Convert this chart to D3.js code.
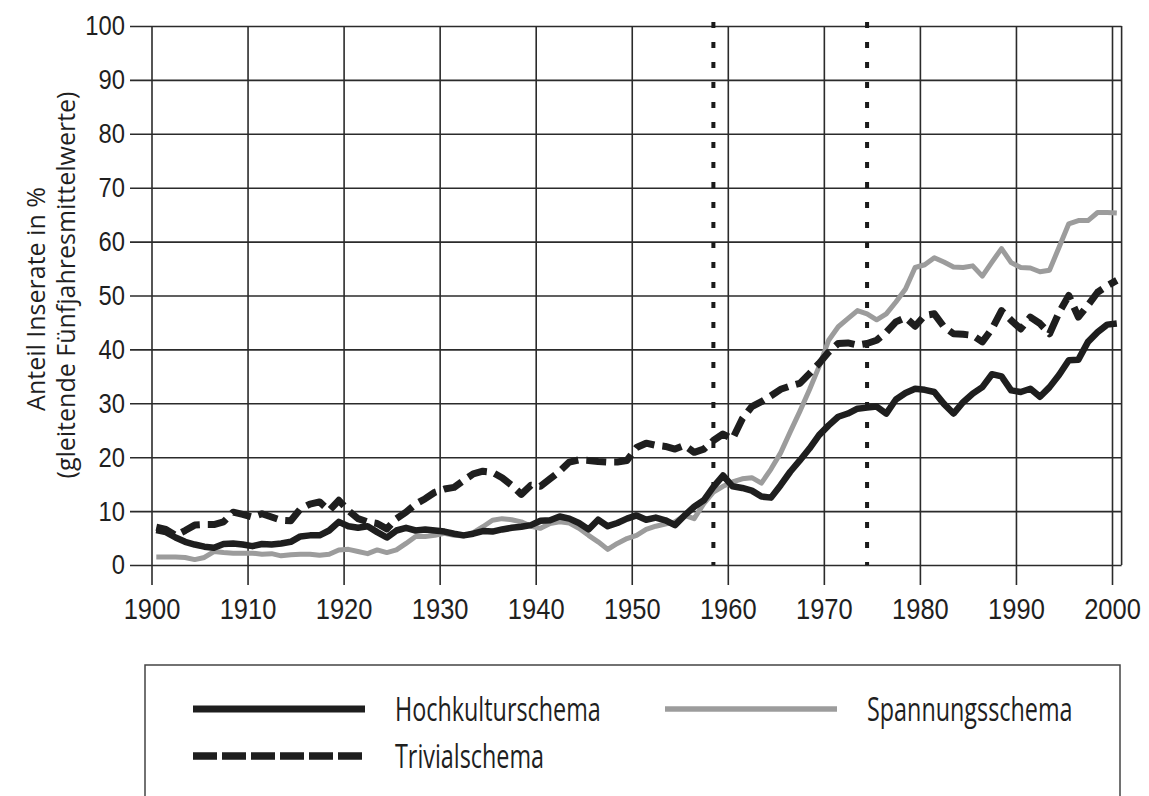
<!DOCTYPE html>
<html lang="de">
<head>
    <meta charset="UTF-8">
    <title>Anteil Inserate nach Schema, 1900-2000</title>
    <script src="https://d3js.org/d3.v7.min.js"></script>
    <style>
        body {
            margin: 0;
            background: #fff;
            font-family: "Open Sans", sans-serif;
        }
        svg {
            display: block;
        }
    </style>
</head>
<body>
    <div id="chart"></div>

    <script>
        // Jahre (Kategorien) und gleitende Fünfjahresmittelwerte in %
        const years = d3.range(1900, 2001);

        const hochkultur = [
            6.5, 6.1, 5.1, 4.3, 3.8, 3.4, 3.2, 3.9, 4.0, 3.8,
            3.5, 3.9, 3.8, 4.0, 4.3, 5.3, 5.5, 5.5, 6.4, 8.0,
            7.2, 6.9, 7.2, 6.1, 5.1, 6.4, 6.9, 6.4, 6.6, 6.4,
            6.2, 5.8, 5.5, 5.8, 6.3, 6.2, 6.6, 6.9, 7.1, 7.4,
            8.2, 8.3, 9.0, 8.6, 7.8, 6.6, 8.4, 7.2, 7.8, 8.6,
            9.2, 8.4, 8.8, 8.3, 7.4, 9.2, 10.8, 12.0, 14.5, 16.6,
            14.6, 14.3, 13.8, 12.7, 12.5, 14.8, 17.3, 19.4, 21.6, 24.1,
            25.9, 27.5, 28.1, 29.0, 29.2, 29.4, 28.1, 30.7, 31.9, 32.7,
            32.5, 32.1, 29.9, 28.1, 30.2, 31.8, 33.0, 35.4, 35.0, 32.4,
            32.1, 32.7, 31.2, 33.0, 35.3, 38.0, 38.1, 41.4, 43.2, 44.6,
            44.8
        ];

        const spannung = [
            1.5, 1.5, 1.5, 1.4, 1.0, 1.4, 2.5, 2.3, 2.2, 2.2,
            2.2, 2.0, 2.1, 1.7, 1.9, 2.0, 2.0, 1.8, 2.0, 2.8,
            2.9, 2.5, 2.1, 2.8, 2.3, 2.8, 4.0, 5.3, 5.3, 5.5,
            5.9, 5.5, 5.4, 6.0, 7.1, 8.3, 8.6, 8.4, 8.0, 7.2,
            6.8, 7.7, 8.0, 7.8, 6.8, 5.5, 4.3, 2.9, 4.0, 4.9,
            5.5, 6.6, 7.2, 7.6, 8.0, 9.2, 8.6, 11.4, 13.5, 14.6,
            15.4, 16.0, 16.2, 15.2, 17.8, 20.8, 24.7, 28.5, 32.5, 36.8,
            41.7, 44.2, 45.7, 47.2, 46.6, 45.5, 46.6, 48.8, 51.2, 55.2,
            55.7, 57.0, 56.2, 55.3, 55.2, 55.5, 53.6, 56.2, 58.7, 56.1,
            55.2, 55.1, 54.4, 54.7, 59.0, 63.3, 63.9, 63.9, 65.4, 65.4,
            65.3
        ];

        const trivial = [
            7.0, 6.6, 5.5, 6.4, 7.4, 7.5, 7.5, 8.0, 9.8, 9.4,
            8.9, 9.5, 8.9, 8.3, 8.2, 10.4, 11.3, 11.7, 10.1, 12.0,
            10.1, 8.6, 8.0, 7.7, 6.7, 8.6, 9.8, 11.3, 12.3, 13.5,
            14.1, 14.4, 15.7, 16.9, 17.4, 17.2, 16.2, 14.8, 13.1, 14.8,
            14.6, 16.0, 17.4, 19.1, 19.5, 19.4, 19.2, 19.1, 19.1, 19.4,
            21.8, 22.6, 22.2, 22.0, 21.5, 22.2, 20.9, 21.5, 23.1, 24.3,
            23.4, 27.1, 29.4, 30.3, 31.4, 32.6, 33.2, 33.7, 35.5, 37.4,
            39.5, 41.1, 41.2, 40.8, 41.1, 41.7, 43.2, 45.1, 45.9, 44.3,
            46.3, 46.6, 44.2, 42.9, 42.8, 42.6, 41.4, 43.8, 47.2, 45.4,
            43.8, 46.0, 44.8, 42.9, 46.9, 50.0, 46.0, 48.2, 50.6, 51.8,
            52.8
        ];

        const xTicks = d3.range(1900, 2001, 10);
        const yTicks = d3.range(0, 101, 10);
        const markerYears = [1958, 1974];

        const width = 1149, height = 796;

        const svg = d3.select("#chart")
            .append("svg")
            .attr("width", width)
            .attr("height", height);

        // gridlines sit on the year boundaries, data points in the middle of each year
        const x = d3.scaleLinear().domain([1900, 2000]).range([151.5, 1112]);
        const y = d3.scaleLinear().domain([0, 100]).range([565, 26]);
        const xData = yr => x(yr + 0.5);

        const plotLeft = 130;
        const plotRight = x(2001);
        const gridColor = "#2b2b2b";
        const textColor = "#1f1f1f";

        // horizontal gridlines + y labels
        const yAxis = svg.append("g")
            .attr("transform", `translate(${plotLeft},0)`)
            .call(d3.axisLeft(y)
                .tickValues(yTicks)
                .tickSize(-(plotRight - plotLeft))
                .tickPadding(6));

        // vertical gridlines + x labels
        const xAxis = svg.append("g")
            .attr("transform", `translate(0,${y(0) + 20})`)
            .call(d3.axisBottom(x)
                .tickValues(xTicks)
                .tickFormat(d3.format("d"))
                .tickSize(-(y(0) + 20 - y(100)))
                .tickPadding(13));

        [yAxis, xAxis].forEach(ax => {
            ax.select(".domain").remove();
            ax.selectAll(".tick line")
                .attr("stroke", gridColor)
                .attr("stroke-width", 1.6);
        });

        yAxis.selectAll(".tick text")
            .attr("fill", textColor)
            .style("font-size", "28px")
            .attr("transform", "scale(0.85,1)");

        xAxis.selectAll(".tick text")
            .attr("fill", textColor)
            .style("font-size", "30px")
            .attr("transform", "scale(0.85,1)");

        // right frame line
        svg.append("line")
            .attr("x1", plotRight).attr("x2", plotRight)
            .attr("y1", y(100)).attr("y2", y(0))
            .attr("stroke", gridColor)
            .attr("stroke-width", 1.6);

        // dotted period markers
        svg.append("g")
            .selectAll("line")
            .data(markerYears)
            .join("line")
            .attr("x1", d => xData(d)).attr("x2", d => xData(d))
            .attr("y1", y(100) - 4).attr("y2", y(0))
            .attr("stroke", "#1a1a1a")
            .attr("stroke-width", 4)
            .attr("stroke-dasharray", "6,14");

        // series
        const series = [
            { name: "Spannungsschema", values: spannung, color: "#9c9c9c", width: 5, dash: null },
            { name: "Hochkulturschema", values: hochkultur, color: "#1e1e1e", width: 6.5, dash: null },
            { name: "Trivialschema", values: trivial, color: "#1e1e1e", width: 7, dash: "20,8" }
        ];

        const line = d3.line()
            .x((d, i) => xData(years[i]))
            .y(d => y(d));

        svg.append("g")
            .attr("fill", "none")
            .selectAll("path")
            .data(series)
            .join("path")
            .attr("d", d => line(d.values))
            .attr("stroke", d => d.color)
            .attr("stroke-width", d => d.width)
            .attr("stroke-linejoin", "round")
            .attr("stroke-dasharray", d => d.dash);

        // y axis title (two lines, rotated)
        const titleLines = [
            { text: "Anteil Inserate in %", cx: 36, cy: 299 },
            { text: "(gleitende Fünfjahresmittelwerte)", cx: 66, cy: 285 }
        ];
        svg.append("g")
            .selectAll("text")
            .data(titleLines)
            .join("text")
            .attr("transform", d => `translate(${d.cx},${d.cy}) rotate(-90)`)
            .attr("text-anchor", "middle")
            .attr("dy", "0.35em")
            .attr("fill", textColor)
            .style("font-size", "25px")
            .text(d => d.text);

        // legend
        const legend = svg.append("g");
        legend.append("rect")
            .attr("x", 145).attr("y", 665)
            .attr("width", 975).attr("height", 200)
            .attr("fill", "none")
            .attr("stroke", "#444")
            .attr("stroke-width", 1.5);

        const legendPos = {
            "Hochkulturschema": { x: 193, y: 709 },
            "Spannungsschema": { x: 665, y: 709 },
            "Trivialschema": { x: 193, y: 756 }
        };

        const items = legend.selectAll("g.item")
            .data(series)
            .join("g")
            .attr("class", "item")
            .attr("transform", d => `translate(${legendPos[d.name].x},${legendPos[d.name].y})`);

        items.append("line")
            .attr("x1", 0).attr("x2", 172)
            .attr("stroke", d => d.color)
            .attr("stroke-width", d => d.width + 0.5)
            .attr("stroke-dasharray", d => d.dash ? "24,5" : null);

        items.append("text")
            .attr("transform", "translate(202,0) scale(0.73,1)")
            .attr("dy", "0.36em")
            .attr("fill", textColor)
            .style("font-size", "32px")
            .text(d => d.name);
    </script>
</body>
</html>
